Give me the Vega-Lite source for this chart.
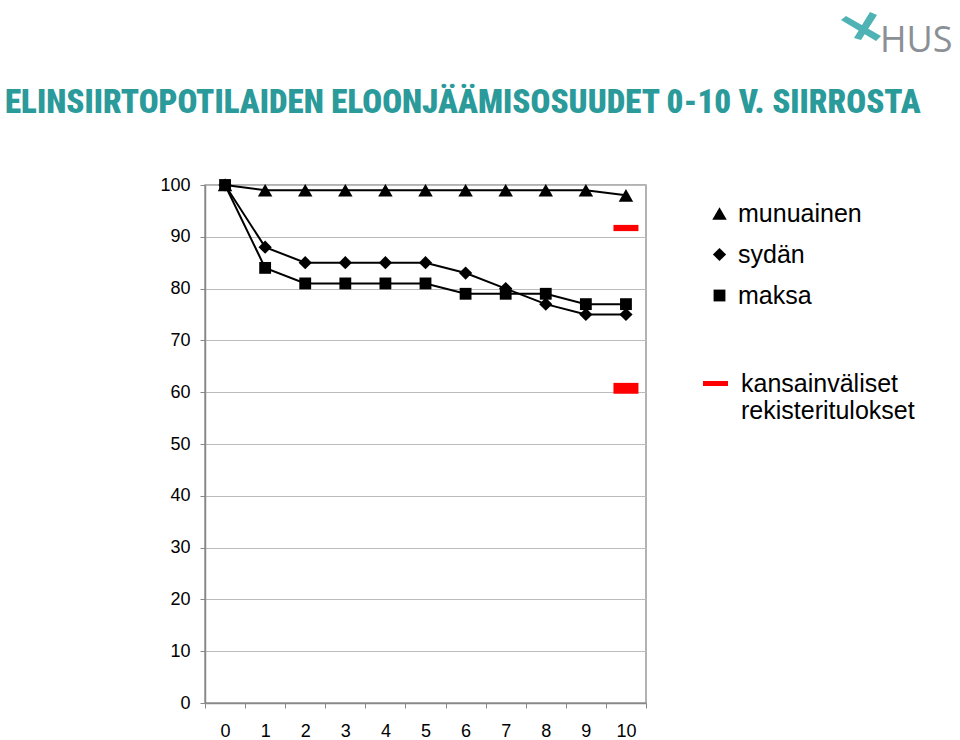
{
  "$schema": "https://vega.github.io/schema/vega-lite/v6.json",
  "width": 441,
  "height": 518,
  "autosize": "none",
  "padding": {"left": 205, "top": 185, "right": 314, "bottom": 37},
  "background": "white",
  "title": {
    "text": "ELINSIIRTOPOTILAIDEN ELOONJÄÄMISOSUUDET 0-10 V. SIIRROSTA",
    "anchor": "start",
    "frame": "group",
    "dx": -200,
    "offset": -100,
    "font": "Noto Sans ExtraCondensed, Noto Sans Condensed, Roboto Condensed, Liberation Sans Narrow, DejaVu Sans Condensed, Liberation Sans",
    "fontSize": 33,
    "fontWeight": 900,
    "color": "#2a9a9a"
  },
  "config": {
    "view": {"stroke": "#999999", "strokeWidth": 1.5},
    "font": "Liberation Sans",
    "axis": {
      "labelFont": "Liberation Sans",
      "labelFontSize": 18,
      "labelColor": "#000000",
      "domainColor": "#888888",
      "domainWidth": 1.5,
      "tickColor": "#888888",
      "tickSize": 5,
      "title": null
    },
    "legend": {
      "labelFont": "Liberation Sans",
      "labelColor": "#000000",
      "labelFontSize": 25,
      "padding": 0,
      "title": null,
      "labelLimit": 400
    }
  },
  "layer": [
    {
      "data": {"values": [
        {"series": "munuainen", "year": 0, "value": 100},
        {"series": "munuainen", "year": 1, "value": 99},
        {"series": "munuainen", "year": 2, "value": 99},
        {"series": "munuainen", "year": 3, "value": 99},
        {"series": "munuainen", "year": 4, "value": 99},
        {"series": "munuainen", "year": 5, "value": 99},
        {"series": "munuainen", "year": 6, "value": 99},
        {"series": "munuainen", "year": 7, "value": 99},
        {"series": "munuainen", "year": 8, "value": 99},
        {"series": "munuainen", "year": 9, "value": 99},
        {"series": "munuainen", "year": 10, "value": 98},
        {"series": "sydän", "year": 0, "value": 100},
        {"series": "sydän", "year": 1, "value": 88},
        {"series": "sydän", "year": 2, "value": 85},
        {"series": "sydän", "year": 3, "value": 85},
        {"series": "sydän", "year": 4, "value": 85},
        {"series": "sydän", "year": 5, "value": 85},
        {"series": "sydän", "year": 6, "value": 83},
        {"series": "sydän", "year": 7, "value": 80},
        {"series": "sydän", "year": 8, "value": 77},
        {"series": "sydän", "year": 9, "value": 75},
        {"series": "sydän", "year": 10, "value": 75},
        {"series": "maksa", "year": 0, "value": 100},
        {"series": "maksa", "year": 1, "value": 84},
        {"series": "maksa", "year": 2, "value": 81},
        {"series": "maksa", "year": 3, "value": 81},
        {"series": "maksa", "year": 4, "value": 81},
        {"series": "maksa", "year": 5, "value": 81},
        {"series": "maksa", "year": 6, "value": 79},
        {"series": "maksa", "year": 7, "value": 79},
        {"series": "maksa", "year": 8, "value": 79},
        {"series": "maksa", "year": 9, "value": 77},
        {"series": "maksa", "year": 10, "value": 77}
      ]},
      "encoding": {
        "x": {
          "field": "year", "type": "ordinal",
          "scale": {"type": "band", "paddingInner": 0, "paddingOuter": 0},
          "axis": {"labelAngle": 0, "tickBand": "extent", "labelPadding": 14, "grid": false}
        },
        "y": {
          "field": "value", "type": "quantitative",
          "scale": {"domain": [0, 100], "nice": false},
          "axis": {"values": [0, 10, 20, 30, 40, 50, 60, 70, 80, 90, 100], "grid": true, "gridColor": "#bbbbbb", "gridWidth": 1.2, "labelPadding": 10}
        }
      },
      "layer": [
        {
          "mark": {"type": "line", "color": "#000000", "strokeWidth": 2},
          "encoding": {"detail": {"field": "series", "type": "nominal"}}
        },
        {
          "mark": {"type": "point", "filled": true, "color": "#000000", "opacity": 1},
          "encoding": {
            "shape": {
              "field": "series", "type": "nominal",
              "scale": {"domain": ["munuainen", "sydän", "maksa"], "range": ["triangle-up", "diamond", "square"]},
              "legend": {
                "orient": "none", "legendX": 502, "legendY": 16,
                "labelOffset": 6, "rowPadding": 15,
                "symbolFillColor": "#000000", "symbolStrokeColor": "#000000"
              }
            },
            "size": {
              "field": "series", "type": "nominal",
              "scale": {"domain": ["munuainen", "sydän", "maksa"], "range": [210, 140, 121]}
            }
          }
        }
      ]
    },
    {
      "data": {"values": [
        {"ref": "kansainväliset rekisteritulokset", "year": 10, "lo": 91.1, "hi": 92.3},
        {"ref": "kansainväliset rekisteritulokset", "year": 10, "lo": 59.7, "hi": 61.8}
      ]},
      "mark": {"type": "bar", "width": 25},
      "encoding": {
        "x": {"field": "year", "type": "ordinal"},
        "y": {"field": "lo", "type": "quantitative"},
        "y2": {"field": "hi"},
        "color": {
          "field": "ref", "type": "nominal",
          "scale": {"range": ["#ff0000"]},
          "legend": {
            "orient": "none", "legendX": 497, "legendY": 185,
            "symbolType": "M-1,-0.2H1V0.2H-1Z",
            "symbolSize": 625,
            "labelOffset": 12,
            "labelExpr": "['kansainväliset', 'rekisteritulokset']"
          }
        }
      }
    },
    {
      "data": {"values": [{"org": "HUS"}]},
      "mark": {"type": "point", "filled": true, "size": 0, "color": "#4fb3b5"},
      "encoding": {
        "opacity": {
          "field": "org", "type": "nominal",
          "scale": {"range": [1]},
          "legend": {
            "orient": "none", "legendX": 635, "legendY": -165,
            "symbolType": "M-1,-1.05L-0.75,-1.25L1,-0.25L0.75,0Z M-0.35,-0.15L0.45,-1.45L0.8,-1.3L0.0,-0.05Z",
            "symbolSize": 1600,
            "symbolFillColor": "#5bbfc2",
            "symbolStrokeColor": "#3fa5aa",
            "symbolOpacity": 1,
            "labelFont": "Open Sans",
            "labelFontSize": 36,
            "labelColor": "#8a9096",
            "labelOffset": -2
          }
        }
      }
    }
  ]
}
